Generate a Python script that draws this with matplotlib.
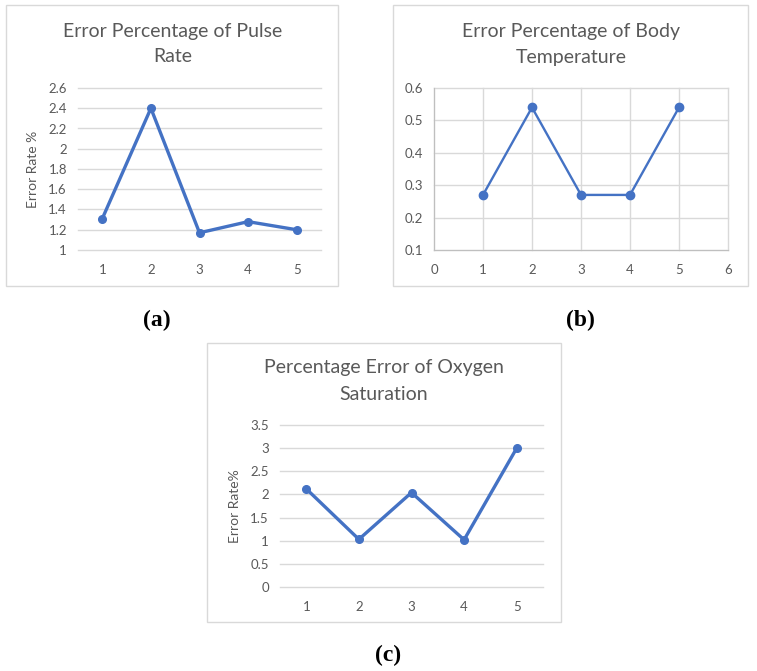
import matplotlib
matplotlib.use('Agg')
import matplotlib.pyplot as plt
from matplotlib.patches import Rectangle

# data
trials = [1, 2, 3, 4, 5]
pulse_err = [1.31, 2.40, 1.17, 1.28, 1.20]
temp_err = [0.27, 0.54, 0.27, 0.27, 0.54]
oxy_err = [2.12, 1.03, 2.04, 1.02, 3.00]

W, H = 757, 671
blue = '#4472C4'
grid = '#D9D9D9'
txt = '#595959'
plt.rcParams['font.family'] = ['Lato', 'DejaVu Sans']

fig = plt.figure(figsize=(W / 100, H / 100), dpi=100)

def px_axes(l, t, r, b):
    return fig.add_axes([l / W, 1 - b / H, (r - l) / W, (b - t) / H])

def box(l, t, r, b):
    fig.patches.append(Rectangle((l / W, 1 - b / H), (r - l) / W, (b - t) / H,
                                 transform=fig.transFigure, fill=False,
                                 edgecolor=grid, linewidth=1))

def ftext(x, y, s, **kw):
    fig.text(x / W, 1 - y / H, s, ha='center', va='center', **kw)

def style(ax):
    for s in ax.spines.values():
        s.set_visible(False)
    ax.tick_params(length=0, labelsize=9.5, labelcolor=txt)
    ax.set_axisbelow(True)
    for gl in ax.get_xgridlines() + ax.get_ygridlines():
        gl.set_clip_on(False)

# (a) pulse rate
box(6, 5, 338, 286)
ax = px_axes(78, 88, 321, 250)
ax.plot(trials, pulse_err, color=blue, lw=2.4, marker='o', ms=5.5)
ax.set_xlim(0.5, 5.5)
ax.set_ylim(1, 2.6)
ax.set_yticks([1, 1.2, 1.4, 1.6, 1.8, 2, 2.2, 2.4, 2.6])
ax.set_yticklabels(['1', '1.2', '1.4', '1.6', '1.8', '2', '2.2', '2.4', '2.6'])
ax.set_xticks(trials)
ax.yaxis.grid(True, color=grid, lw=1)
style(ax)
ax.tick_params(axis='y', pad=8)
ax.tick_params(axis='x', pad=10)
ax.set_ylabel('Error Rate %', fontsize=10, color=txt, labelpad=7)
ftext(173, 31, 'Error Percentage of Pulse', fontsize=14, color=txt)
ftext(173, 57, 'Rate', fontsize=14, color=txt)
ftext(157, 320, '(a)', fontsize=17, fontweight='bold', family='Liberation Serif')

# (b) body temperature
box(393, 5, 748, 286)
ax = px_axes(434, 88, 728, 250)
ax.plot(trials, temp_err, color=blue, lw=1.7, marker='o', ms=6)
ax.set_xlim(0, 6)
ax.set_ylim(0.1, 0.6)
ax.set_xticks(range(7))
ax.set_yticks([0.1, 0.2, 0.3, 0.4, 0.5, 0.6])
ax.grid(True, color=grid, lw=1)
style(ax)
ax.spines['left'].set_visible(True)
ax.spines['bottom'].set_visible(True)
ax.spines['left'].set_color('#BFBFBF')
ax.spines['bottom'].set_color('#BFBFBF')
ax.tick_params(axis='y', pad=8)
ax.tick_params(axis='x', pad=10)
ftext(571, 31, 'Error Percentage of Body', fontsize=14, color=txt)
ftext(571, 57, 'Temperature', fontsize=14, color=txt)
ftext(580, 320, '(b)', fontsize=17, fontweight='bold', family='Liberation Serif')

# (c) oxygen saturation
box(207, 343, 561, 622)
ax = px_axes(280, 425, 543, 587)
ax.plot(trials, oxy_err, color=blue, lw=2.4, marker='o', ms=5.5)
ax.set_xlim(0.5, 5.5)
ax.set_ylim(0, 3.5)
ax.set_yticks([0, 0.5, 1, 1.5, 2, 2.5, 3, 3.5])
ax.set_yticklabels(['0', '0.5', '1', '1.5', '2', '2.5', '3', '3.5'])
ax.set_xticks(trials)
ax.yaxis.grid(True, color=grid, lw=1)
style(ax)
ax.tick_params(axis='y', pad=8)
ax.tick_params(axis='x', pad=10)
ax.set_ylabel('Error Rate%', fontsize=10, color=txt, labelpad=7)
ftext(384, 368, 'Percentage Error of Oxygen', fontsize=14, color=txt)
ftext(384, 394, 'Saturation', fontsize=14, color=txt)
ftext(388, 655, '(c)', fontsize=17, fontweight='bold', family='Liberation Serif')

fig.savefig('out.png', dpi=100)
